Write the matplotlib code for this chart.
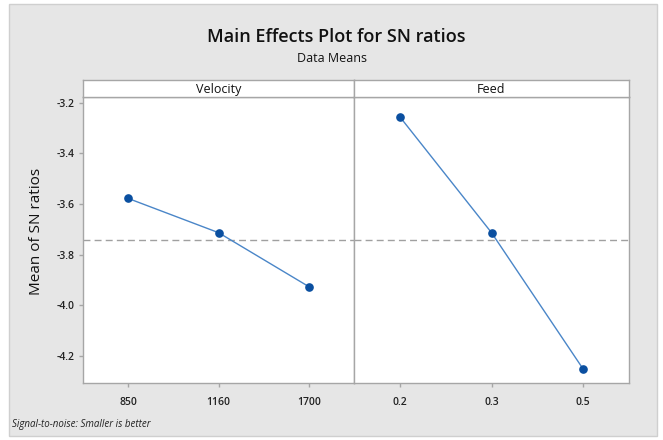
import matplotlib
matplotlib.use("Agg")
import matplotlib.pyplot as plt
from matplotlib.patches import Rectangle

plt.rcParams['font.family'] = ['Open Sans', 'DejaVu Sans']

# data
velocity_levels = ['850', '1160', '1700']
velocity_sn = [-3.578, -3.713, -3.926]
feed_levels = ['0.2', '0.3', '0.5']
feed_sn = [-3.256, -3.713, -4.251]
overall_mean = -3.742
yticks = [-3.2, -3.4, -3.6, -3.8, -4.0, -4.2]

W, H = 663, 440
fig = plt.figure(figsize=(W / 100, H / 100), dpi=100)
fig.patch.set_facecolor('white')

# grey backdrop with a thin frame
fig.patches.append(Rectangle((9 / W, 4 / H), (657 - 9) / W, (436 - 4) / H,
                             transform=fig.transFigure, facecolor='#e6e6e6',
                             edgecolor='#cfcfcf', lw=1, zorder=-10))

def fx(px):
    return px / W

def fy(py):
    return 1 - py / H

top, bot = 97, 383
strip_top = 80
panels = [(83, 354, 'Velocity', velocity_levels, velocity_sn),
          (354, 629, 'Feed', feed_levels, feed_sn)]

line_col = '#4a86c8'
dot_col = '#0a4fa0'
spine_col = '#a6a6a6'

axes = []
for i, (x0, x1, name, levels, vals) in enumerate(panels):
    ax = fig.add_axes([fx(x0), fy(bot), fx(x1 - x0), fy(top) - fy(bot)])
    ax.set_facecolor('white')
    xs = list(range(len(levels)))
    ax.plot(xs, vals, color=line_col, lw=1.0, zorder=3)
    ax.plot(xs, vals, 'o', color=dot_col, ms=5.2, zorder=4)
    ax.axhline(overall_mean, color='#a0a0a0', lw=1, ls=(0, (5, 3)), zorder=2)
    ax.set_xlim(-0.5, 2.5)
    ax.set_ylim(-4.306, -3.178)
    ax.set_xticks(xs)
    ax.set_xticklabels(levels, fontsize=7.5, fontweight='semibold',
                       color='#222222')
    for s in ax.spines.values():
        s.set_color(spine_col)
        s.set_linewidth(1)
    ax.tick_params(axis='both', direction='out', length=3, width=1,
                   color=spine_col, pad=7)
    if i == 0:
        ax.set_yticks(yticks)
        ax.set_yticklabels(['{:.1f}'.format(v) for v in yticks],
                           fontsize=7.5, fontweight='semibold', color='#222222')
        ax.tick_params(axis='y', pad=3)
    else:
        ax.tick_params(axis='y', left=False, labelleft=False)
    # header strip
    sx = fig.add_axes([fx(x0), fy(top), fx(x1 - x0), fy(strip_top) - fy(top)])
    sx.set_facecolor('white')
    sx.set_xticks([])
    sx.set_yticks([])
    for s in sx.spines.values():
        s.set_color(spine_col)
        s.set_linewidth(1)
    sx.text(0.5, 0.45, name, ha='center', va='center', fontsize=9,
            color='#111111', transform=sx.transAxes)
    axes.append(ax)

fig.text(fx(37), fy(231), 'Mean of SN ratios', rotation=90, ha='center',
         va='center', fontsize=11, fontweight='medium', color='#111111')
fig.text(fx(336), fy(37), 'Main Effects Plot for SN ratios', ha='center',
         va='center', fontsize=13, fontweight='semibold', color='#111111')
fig.text(fx(332), fy(59), 'Data Means', ha='center', va='center',
         fontsize=9, color='#111111')
fig.text(fx(12), fy(424), 'Signal-to-noise: Smaller is better', ha='left',
         va='center', fontsize=7, style='italic', color='#222222')

fig.savefig('out.png', dpi=100, facecolor=fig.get_facecolor())
